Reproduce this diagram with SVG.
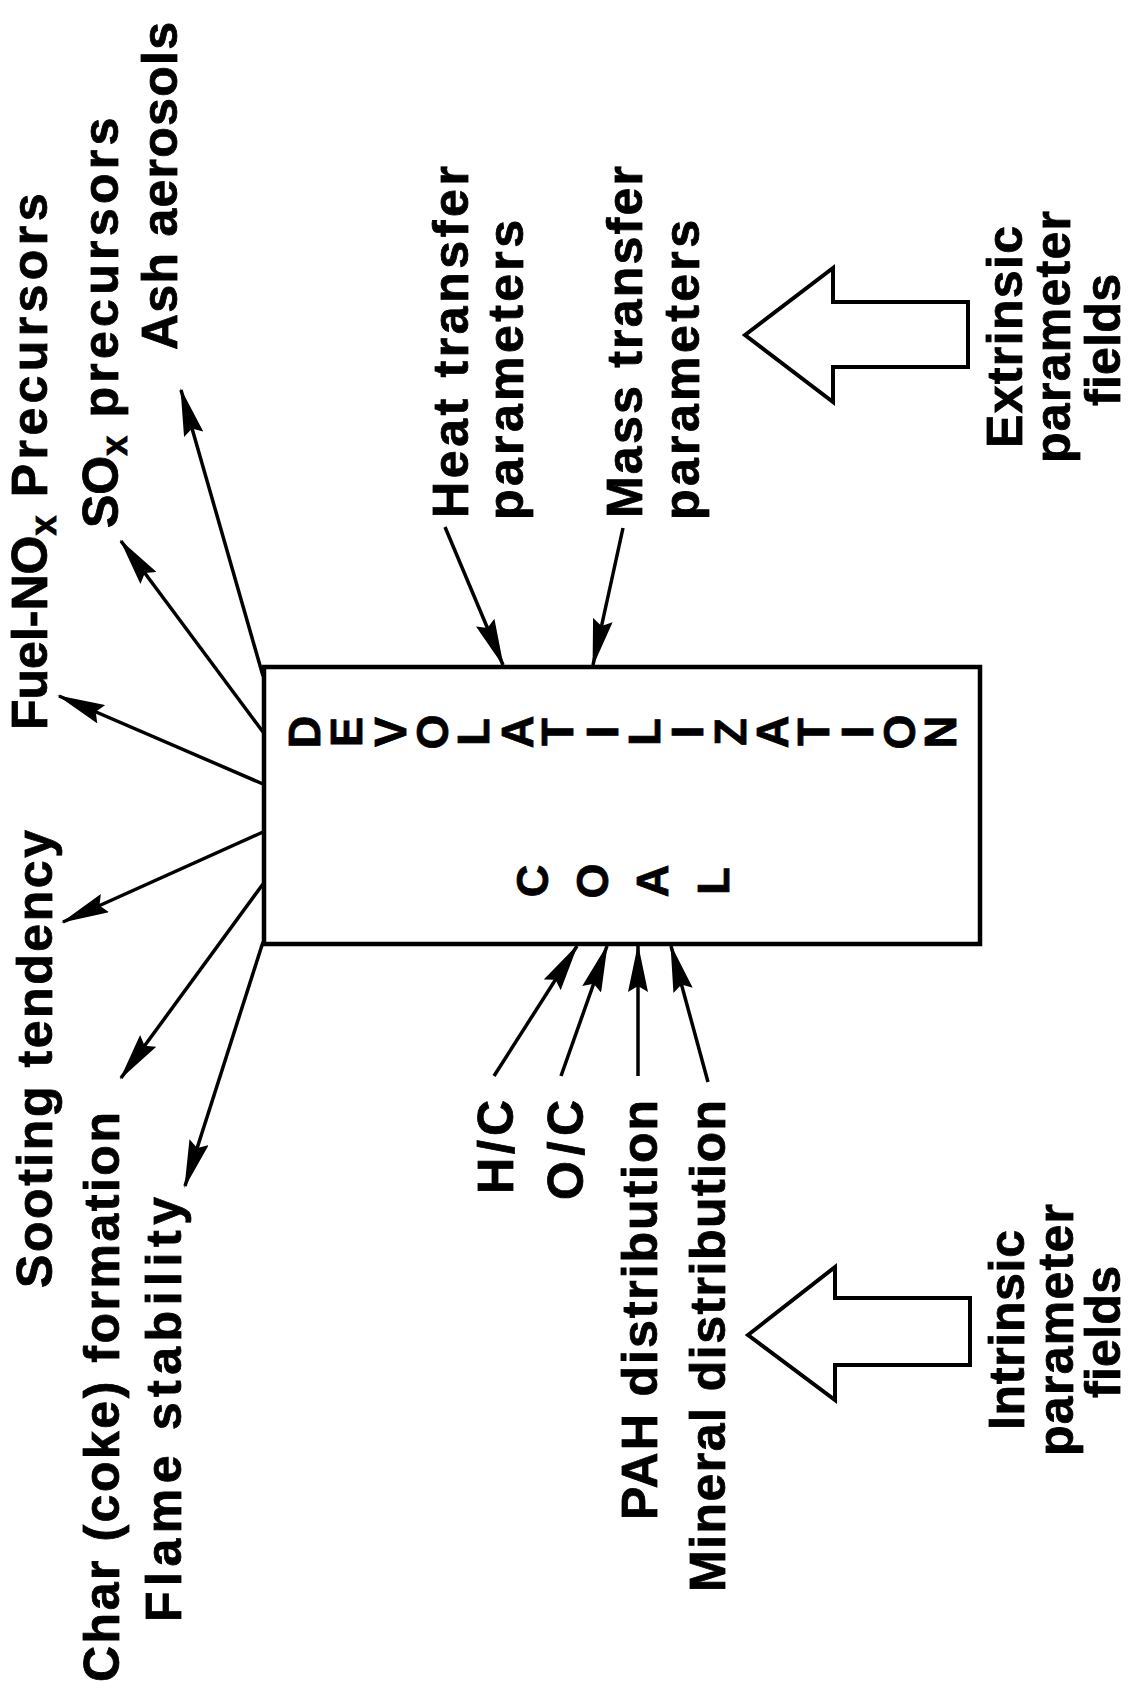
<svg xmlns="http://www.w3.org/2000/svg" width="1135" height="1690" viewBox="0 0 1135 1690">
<style>
.lbl{font-family:"Liberation Sans",Arial,sans-serif;font-weight:bold;font-size:50px;fill:#000;stroke:#000;stroke-width:0.8}
.box{font-family:"Liberation Sans",Arial,sans-serif;font-weight:bold;font-size:45px;fill:#000;stroke:#000;stroke-width:0.8;text-anchor:middle}
.con{stroke:#000;stroke-width:3.5;fill:none;marker-end:url(#ah)}
.blk{fill:#fff;stroke:#000;stroke-width:4;stroke-linejoin:miter}
</style>
<defs>
<marker id="ah" viewBox="0 0 48 20" refX="46" refY="10" markerWidth="48" markerHeight="20" markerUnits="userSpaceOnUse" orient="auto">
<path d="M0,0 L48,10 L0,20 L6,10 z" fill="#000"/>
</marker>
</defs>
<rect width="1135" height="1690" fill="#fff"/>

<g id="coal-box">
<rect x="264" y="667" width="716" height="277" fill="#fff" stroke="#000" stroke-width="4.5"/>
<g class="box">
<text transform="translate(320,732) rotate(-90)">D</text>
<text transform="translate(362,732) rotate(-90)">E</text>
<text transform="translate(406,732) rotate(-90)">V</text>
<text transform="translate(448,732) rotate(-90)">O</text>
<text transform="translate(489,732) rotate(-90)">L</text>
<text transform="translate(533,732) rotate(-90)">A</text>
<text transform="translate(573,732) rotate(-90)">T</text>
<text transform="translate(618,732) rotate(-90)">I</text>
<text transform="translate(660,732) rotate(-90)">L</text>
<text transform="translate(703,732) rotate(-90)">I</text>
<text transform="translate(746,732) rotate(-90)">Z</text>
<text transform="translate(788,732) rotate(-90)">A</text>
<text transform="translate(829,732) rotate(-90)">T</text>
<text transform="translate(873,732) rotate(-90)">I</text>
<text transform="translate(915,732) rotate(-90)">O</text>
<text transform="translate(956,732) rotate(-90)">N</text>
<text transform="translate(548,881) rotate(-90)">C</text>
<text transform="translate(608,881) rotate(-90)">O</text>
<text transform="translate(668,881) rotate(-90)">A</text>
<text transform="translate(729,881) rotate(-90)">L</text>
</g>
</g>

<g id="connectors">
<line class="con" x1="263" y1="676" x2="181" y2="390"/>
<line class="con" x1="263" y1="732" x2="121" y2="541"/>
<line class="con" x1="263" y1="784" x2="59" y2="696"/>
<line class="con" x1="263" y1="832" x2="63" y2="922"/>
<line class="con" x1="263" y1="884" x2="121" y2="1078"/>
<line class="con" x1="263" y1="942" x2="185" y2="1186"/>
<line class="con" x1="445" y1="527" x2="503" y2="665"/>
<line class="con" x1="623" y1="528" x2="593" y2="665"/>
<line class="con" x1="494" y1="1076" x2="577" y2="946"/>
<line class="con" x1="561" y1="1076" x2="607" y2="946"/>
<line class="con" x1="638" y1="1076" x2="638" y2="946"/>
<line class="con" x1="708" y1="1082" x2="671" y2="946"/>
</g>

<g id="out-ash"><text class="lbl" textLength="328" transform="translate(177,350) rotate(-90)">Ash aerosols</text></g>
<g id="out-sox"><text class="lbl" transform="translate(118,528) rotate(-90)">SO<tspan font-size="36" dy="9">x</tspan><tspan dy="-9" textLength="318"> precursors</tspan></text></g>
<g id="out-nox"><text class="lbl" transform="translate(47,730) rotate(-90)">Fuel-NO<tspan font-size="36" dy="9">x</tspan><tspan dy="-9" textLength="322"> Precursors</tspan></text></g>
<g id="out-soot"><text class="lbl" textLength="458" transform="translate(52,1288) rotate(-90)">Sooting tendency</text></g>
<g id="out-char"><text class="lbl" textLength="570" transform="translate(119,1682) rotate(-90)">Char (coke) formation</text></g>
<g id="out-flame"><text class="lbl" textLength="425" transform="translate(181,1622) rotate(-90)">Flame stability</text></g>

<g id="in-heat">
<text class="lbl" textLength="352" transform="translate(468,518) rotate(-90)">Heat transfer</text>
<text class="lbl" textLength="300" transform="translate(523,520) rotate(-90)">parameters</text>
</g>
<g id="in-mass">
<text class="lbl" textLength="352" transform="translate(642,518) rotate(-90)">Mass transfer</text>
<text class="lbl" textLength="300" transform="translate(699,520) rotate(-90)">parameters</text>
</g>

<g id="in-hc"><text class="lbl" text-anchor="end" textLength="94" transform="translate(513,1100) rotate(-90)">H/C</text></g>
<g id="in-oc"><text class="lbl" text-anchor="end" textLength="100" transform="translate(583,1100) rotate(-90)">O/C</text></g>
<g id="in-pah"><text class="lbl" text-anchor="end" textLength="420" transform="translate(657,1100) rotate(-90)">PAH distribution</text></g>
<g id="in-mineral"><text class="lbl" text-anchor="end" textLength="492" transform="translate(725,1100) rotate(-90)">Mineral distribution</text></g>

<g id="extrinsic">
<polygon class="blk" points="745,335 833,268 833,302 968,302 968,367 833,367 833,402"/>
<text class="lbl" text-anchor="middle" textLength="222" transform="translate(1022,337) rotate(-90)">Extrinsic</text>
<text class="lbl" text-anchor="middle" textLength="252" transform="translate(1070,337) rotate(-90)">parameter</text>
<text class="lbl" text-anchor="middle" textLength="132" transform="translate(1120,340) rotate(-90)">fields</text>
</g>

<g id="intrinsic">
<polygon class="blk" points="748,1335 835,1267 835,1298 970,1298 970,1365 835,1365 835,1400"/>
<text class="lbl" text-anchor="middle" textLength="200" transform="translate(1024,1330) rotate(-90)">Intrinsic</text>
<text class="lbl" text-anchor="middle" textLength="252" transform="translate(1073,1330) rotate(-90)">parameter</text>
<text class="lbl" text-anchor="middle" textLength="132" transform="translate(1120,1332) rotate(-90)">fields</text>
</g>
</svg>
